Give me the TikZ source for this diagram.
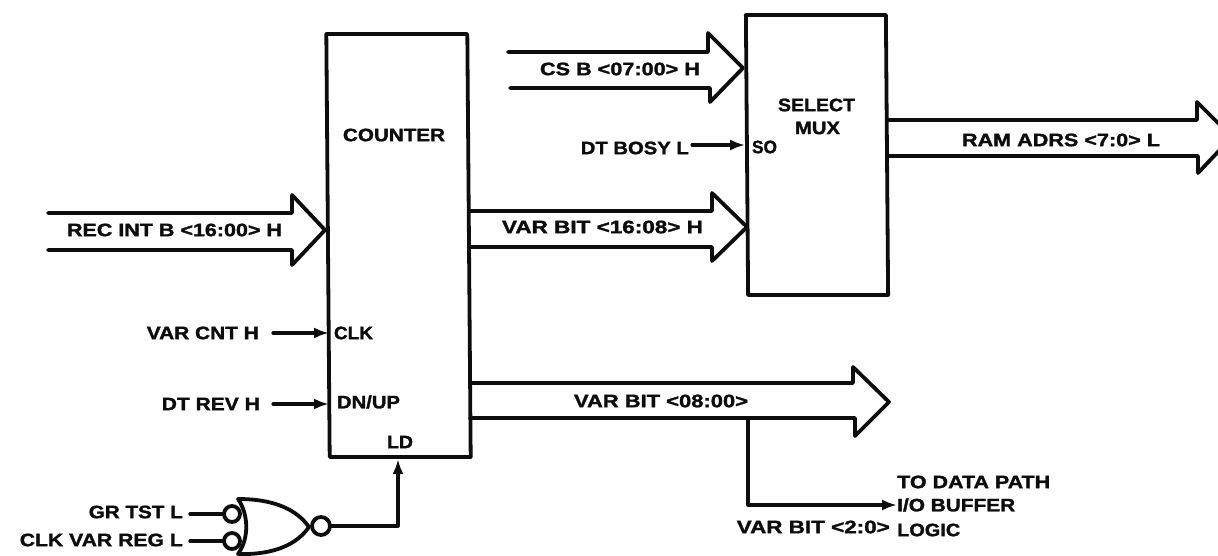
\documentclass[tikz,border=0pt]{standalone}
\usepackage{graphicx}
\usepackage{fontspec}
\setmainfont[BoldFeatures={FakeBold=1.5}]{Liberation Sans}
\usetikzlibrary{arrows.meta}
\definecolor{ink}{gray}{0.05}
\newcommand{\fitw}[2]{\resizebox{#1pt}{\height}{#2}}
\tikzset{
 wire/.style={line width=3.8pt,line cap=round,line join=round,ink},
 thinwire/.style={line width=3.2pt,line cap=round,line join=round,ink},
 sig/.style={thinwire,-{Latex[length=15pt,width=11pt]}},
 lab/.style={inner sep=0pt,font=\bfseries\fontsize{18}{20}\selectfont,text=ink},
 blockbox/.style={wire,draw,inner sep=0pt,xslant=-0.008,transform shape},
 bub/.style={circle,draw,wire,inner sep=0pt,minimum size=16pt,fill=white},
}
\begin{document}
\begin{tikzpicture}[x=1pt,y=-1pt]
\useasboundingbox (0,0) rectangle (1218,556);
% blocks
\node[blockbox,minimum width=141pt,minimum height=423pt] (counter) at (398.5,245.5) {};
\node[blockbox,minimum width=140pt,minimum height=280pt] (mux) at (817,155) {};
\node[lab] (tcounter) at (394,135) {\fitw{102}{COUNTER}};
\node[lab] (tselect) at (816.5,105) {\fitw{77}{SELECT}};
\node[lab] (tmux) at (817.5,128) {\fitw{45}{MUX}};
\node[lab] (tso) at (764.5,147) {\fitw{25}{SO}};
\node[lab] (tclk) at (353.5,333) {\fitw{39}{CLK}};
\node[lab] (tdn) at (368.5,402) {\fitw{63}{DN/UP}};
\node[lab] (tld) at (400,442) {\fitw{26}{LD}};
% bus arrows
\draw[wire] (48,213) -- (292,213) -- (292,195) -- (325,230) -- (292,265) -- (292,250) -- (48,250);
\draw[wire] (508,52) -- (708,52) -- (708,33) -- (743,68) -- (710,102) -- (710,88) -- (510,88);
\draw[wire] (470,211) -- (712,211) -- (712,193) -- (747,227) -- (712,261) -- (712,247) -- (470,247);
\begin{scope}
\clip (880,90) rectangle (1218,190);
\draw[wire] (888,120) -- (1197,120) -- (1197,102) -- (1232,137) -- (1198,173) -- (1198,156) -- (888,156);
\end{scope}
\draw[wire] (470,383) -- (853,383) -- (853,367) -- (889,402) -- (855,436) -- (855,418) -- (470,418);
% bus labels
\node[lab] (trec) at (174.5,230) {\fitw{215}{REC INT B <16:00> H}};
\node[lab] (tcs) at (620,69) {\fitw{160}{CS B <07:00> H}};
\node[lab] (tvar) at (602.5,227) {\fitw{201}{VAR BIT <16:08> H}};
\node[lab] (tram) at (1061,140) {\fitw{198}{RAM ADRS <7:0> L}};
\node[lab] (tvar2) at (661,401) {\fitw{174}{VAR BIT <08:00>}};
% signals
\node[lab,anchor=east] (tbusy) at (689,148) {\fitw{108}{DT BOSY L}};
\coordinate (busy) at (692,145);
\draw[sig] (busy) -- (busy -| mux.west);
\node[lab,anchor=east] (tcnt) at (259,333) {\fitw{112}{VAR CNT H}};
\coordinate (cnts) at (273,333);
\draw[sig] (cnts) -- (329,333);
\node[lab,anchor=east] (trev) at (260,404) {\fitw{98}{DT REV H}};
\coordinate (revs) at (273,404);
\draw[sig] (revs) -- (329,404);
% gate
\node[lab,anchor=east] (tgr) at (183,512) {\fitw{94}{GR TST L}};
\node[lab,anchor=east] (tclkv) at (183,540) {\fitw{163}{CLK VAR REG L}};
\draw[wire] (238,499) .. controls (275,499) and (297,510) .. (309,527) .. controls (297,544) and (275,555) .. (238,554);
\draw[wire] (238,499) .. controls (249,515) and (249,539) .. (238,554);
\node[bub] (bt) at (232,514) {};
\node[bub] (bb) at (232,541) {};
\node[bub,minimum size=18pt] (bo) at (321,526) {};
\draw[thinwire] (190,514) -- (bt);
\draw[thinwire] (190,541) -- (bb);
\draw[sig] (bo.east) -- (398,526) -- (398,459);
% tap
\coordinate (tap) at (748,418);
\node[lab,anchor=west] (tto) at (897,482) {\fitw{153}{TO DATA PATH}};
\node[lab,anchor=west] (tio) at (897,505) {\fitw{118}{I/O BUFFER}};
\node[lab,anchor=west] (tlog) at (897,530) {\fitw{63}{LOGIC}};
\node[lab,anchor=east] (tv3) at (890,527) {\fitw{153}{VAR BIT <2:0>}};
\draw[sig] (tap) -- (748,505) -- (tio.west);
\end{tikzpicture}
\end{document}
